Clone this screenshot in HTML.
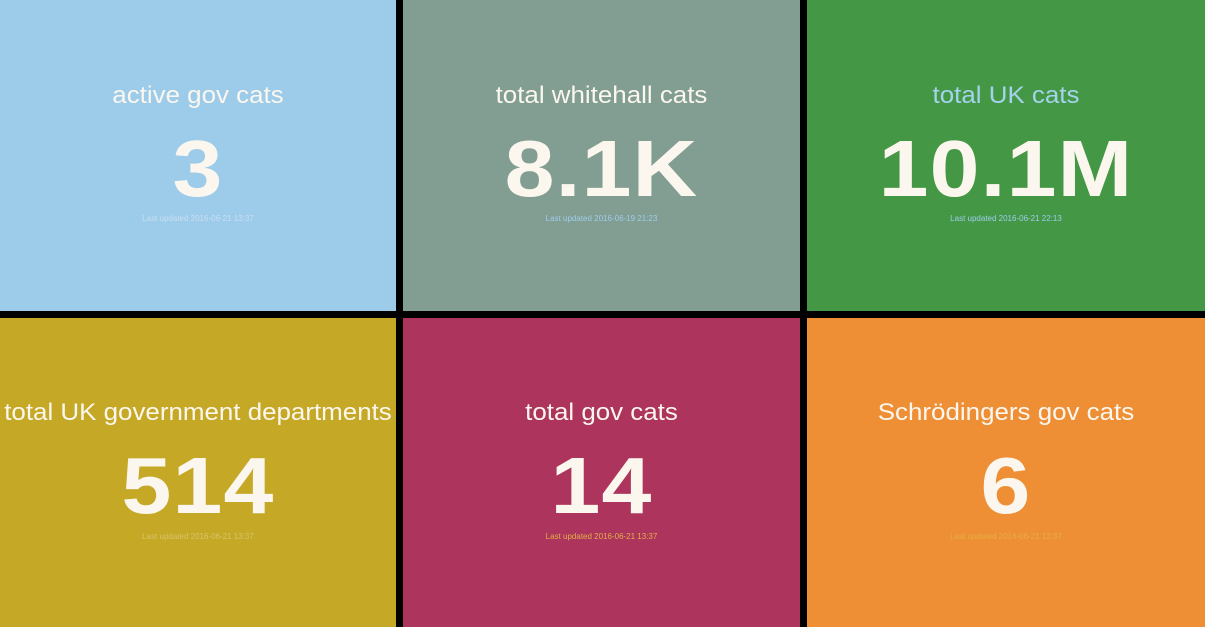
<!DOCTYPE html>
<html><head><meta charset="utf-8"><style>
body{margin:0;width:1205px;height:627px;background:#000;position:relative;overflow:hidden;font-family:"Liberation Sans",sans-serif}
.t{position:absolute;color:#fbf7ee;text-align:center}
.h{position:absolute;left:-20px;right:-20px;font-size:24px;white-space:nowrap;transform:scaleX(1.08)}
.n{position:absolute;left:-20px;right:-20px;font-size:80px;letter-spacing:1px;font-weight:bold;line-height:80px;transform:scaleX(1.12)}
.s{position:absolute;left:0;right:0;font-size:8px;color:#9fcdeb}
</style></head><body>
<div class="t" style="left:0;top:0;width:396px;height:311px;background:#9dcbea">
<div class="h" style="top:82px">active gov cats</div>
<div class="n" style="top:129px">3</div>
<div class="s" style="top:214px;color:#c6e0f2">Last updated 2016-06-21 13:37</div></div>
<div class="t" style="left:403px;top:0;width:397px;height:311px;background:#829d91">
<div class="h" style="top:82px">total whitehall cats</div>
<div class="n" style="top:129px">8.1K</div>
<div class="s" style="top:214px">Last updated 2016-06-19 21:23</div></div>
<div class="t" style="left:807px;top:0;width:398px;height:311px;background:#449745">
<div class="h" style="top:82px;color:#a5d3ec">total UK cats</div>
<div class="n" style="top:129px">10.1M</div>
<div class="s" style="top:214px">Last updated 2016-06-21 22:13</div></div>
<div class="t" style="left:0;top:318px;width:396px;height:309px;background:#c5a826">
<div class="h" style="top:81px">total UK government departments</div>
<div class="n" style="top:128px">514</div>
<div class="s" style="top:214px;color:#d9c46a">Last updated 2016-06-21 13:37</div></div>
<div class="t" style="left:403px;top:318px;width:397px;height:309px;background:#ad345c">
<div class="h" style="top:81px">total gov cats</div>
<div class="n" style="top:128px">14</div>
<div class="s" style="top:214px;color:#e2b04a">Last updated 2016-06-21 13:37</div></div>
<div class="t" style="left:807px;top:318px;width:398px;height:309px;background:#ee8e35">
<div class="h" style="top:81px">Schrödingers gov cats</div>
<div class="n" style="top:128px">6</div>
<div class="s" style="top:214px;color:#e6b040">Last updated 2016-06-21 13:37</div></div>
</body></html>
